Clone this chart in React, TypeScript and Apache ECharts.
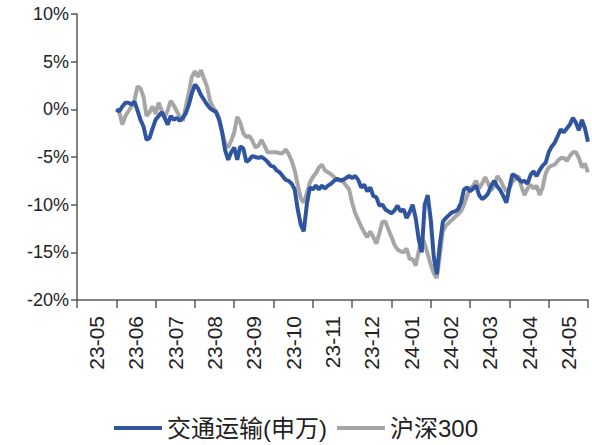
import React, { useEffect, useRef } from "react";
import * as echarts from "echarts";

const monthLabels = ["23-05", "23-06", "23-07", "23-08", "23-09", "23-10", "23-11", "23-12", "24-01", "24-02", "24-03", "24-04", "24-05"];
const yTicks = [-20, -15, -10, -5, 0, 5, 10];
const seriesNames = ["交通运输(申万)", "沪深300"];

// cumulative return (%), sampled ~13 points per month from 2023-06 to 2024-05
const transport = [
  0, -0.2, 0.3, 0.7, 0.7, 0.5, 0.8, -0.1, -1.1, -1.8,
  -3.2, -3.0, -2.0, -1.1, -0.7, -0.3, -0.9, -1.6, -0.7, -1.1,
  -0.9, -1.2, -0.9, -0.4, 0.5, 1.7, 2.6, 2.2, 1.5, 1.0,
  0.5, 0.1, -0.1, -0.3, -1.1, -2.4, -4.3, -5.3, -4.5, -4.0,
  -5.3, -3.9, -4.1, -5.5, -5.3, -4.9, -5.0, -5.1, -5.0, -5.2,
  -5.5, -5.9, -6.0, -6.4, -6.6, -7.0, -7.4, -7.5, -7.8, -8.4,
  -10.5, -12.1, -12.8, -10.0, -8.2, -8.4, -8.0, -8.4, -8.0, -8.3,
  -8.0, -7.8, -7.5, -7.3, -7.4, -7.4, -7.2, -7.0, -7.2, -7.0,
  -7.4, -8.2, -7.9, -8.6, -8.2, -9.1, -9.2, -10.1, -10.0, -10.5,
  -10.7, -10.9, -10.6, -10.1, -10.7, -10.5, -11.4, -10.8, -10.0, -11.4,
  -13.6, -15.0, -10.0, -9.0, -11.6, -15.5, -17.3, -14.2, -11.8, -11.4,
  -11.1, -10.8, -10.7, -10.5, -9.8, -8.4, -8.2, -8.6, -8.3, -8.0,
  -9.0, -9.4, -9.2, -8.8, -8.0, -7.5, -8.1, -8.5, -9.1, -9.8,
  -8.2, -6.8, -7.0, -7.3, -7.6, -7.5, -7.8, -6.9, -6.5, -7.0,
  -6.4, -5.9, -5.6, -4.5, -3.9, -3.5, -2.8, -2.1, -2.4, -2.0,
  -1.6, -0.9, -1.4, -2.2, -1.1, -2.0, -3.4,
];

const csi300 = [
  0, -0.3, -1.6, -0.7, -0.2, 0.3, 0.9, 2.4, 2.2, 1.3,
  -0.7, -0.3, 0.3, -0.5, 0.7, -0.1, -0.8, -0.1, 0.9, 0.4,
  -0.2, -0.8, -1.2, 0.3, 1.8, 3.4, 4.0, 3.4, 4.1, 3.2,
  2.4, 0.9, 0.2, -0.2, -0.9, -2.4, -3.6, -4.0, -3.3, -2.4,
  -0.8, -1.4, -2.5, -2.9, -2.8, -3.3, -4.0, -3.8, -3.2, -3.8,
  -4.5, -4.5, -4.5, -4.5, -4.6, -4.6, -4.2, -4.7, -5.4, -6.4,
  -7.9, -9.3, -9.8, -8.8, -7.7, -7.1, -6.7, -6.1, -5.8, -6.4,
  -6.6, -6.8, -7.1, -7.4, -7.5, -7.6, -8.0, -8.4, -9.8, -10.9,
  -11.6, -12.3, -12.9, -13.4, -12.8, -13.4, -14.1, -13.0, -11.8, -11.8,
  -12.6, -13.4, -14.2, -14.7, -14.9, -15.0, -14.6, -15.7, -15.7, -16.4,
  -14.9, -13.4, -14.1, -15.2, -16.3, -17.2, -17.7, -15.3, -12.8, -12.2,
  -11.9, -11.6, -11.3, -11.0, -10.7, -10.0, -9.1, -8.3, -8.0, -7.5,
  -8.3, -7.8, -7.1, -7.8, -8.5, -8.0, -7.0, -7.4, -8.1, -8.6,
  -8.3, -7.6, -7.3, -7.0, -8.1, -9.0, -8.3, -7.9, -8.3, -8.0,
  -9.0, -8.2, -6.7, -6.1, -5.9, -5.8, -5.4, -5.1, -5.1, -5.4,
  -4.9, -4.5, -4.5, -5.1, -6.1, -5.7, -6.6,
];

const samplesPerMonth = 13;

const FONT = "'Liberation Sans', Arial, 'Noto Sans CJK SC', sans-serif";

export default function App() {
  const ref = useRef<HTMLDivElement>(null);
  useEffect(() => {
    if (!ref.current) return;
    const chart = echarts.init(ref.current, undefined, { renderer: "svg" });
    const toPairs = (arr: number[]) => arr.map((v, i) => [i, v]);
    chart.setOption({
      animation: false,
      textStyle: { fontFamily: FONT },
      grid: { left: 77, right: 4, top: 14, bottom: 145, containLabel: false },
      legend: {
        bottom: 0,
        left: "center",
        itemWidth: 48,
        itemHeight: 4,
        itemGap: 10,
        icon: "rect",
        textStyle: { fontSize: 24, color: "#222", fontFamily: FONT },
        data: seriesNames,
      },
      xAxis: [
        {
          type: "category",
          data: monthLabels,
          boundaryGap: true,
          axisLine: { onZero: false, lineStyle: { color: "#595959", width: 1.5 } },
          axisTick: { show: true, length: 8, interval: 0, lineStyle: { color: "#595959", width: 1.5 } },
          axisLabel: { rotate: 90, interval: 0, fontSize: 21, color: "#222", margin: 16, fontFamily: FONT },
          splitLine: { show: false },
        },
        {
          type: "value",
          min: -samplesPerMonth,
          max: samplesPerMonth * 12,
          show: false,
          axisLine: { onZero: false },
          splitLine: { show: false },
        },
      ],
      yAxis: {
        type: "value",
        min: yTicks[0],
        max: yTicks[yTicks.length - 1],
        interval: 5,
        axisLine: { show: true, onZero: false, lineStyle: { color: "#595959", width: 1.5 } },
        axisTick: { show: true, length: 6, lineStyle: { color: "#595959", width: 1.5 } },
        axisLabel: { fontSize: 18, color: "#222", margin: 8, formatter: (v: number) => `${v}%`, fontFamily: FONT },
        splitLine: { show: false },
      },
      series: [
        {
          name: seriesNames[1],
          type: "line",
          xAxisIndex: 1,
          data: toPairs(csi300),
          showSymbol: false,
          lineStyle: { color: "#A6A6A6", width: 4 },
          itemStyle: { color: "#A6A6A6" },
          z: 2,
        },
        {
          name: seriesNames[0],
          type: "line",
          xAxisIndex: 1,
          data: toPairs(transport),
          showSymbol: false,
          lineStyle: { color: "#2F54A0", width: 4 },
          itemStyle: { color: "#2F54A0" },
          z: 3,
        },
      ],
    });
    return () => chart.dispose();
  }, []);
  return <div ref={ref} style={{ position: "fixed", left: 0, top: 0, width: 592, height: 445, background: "#fff" }} />;
}
